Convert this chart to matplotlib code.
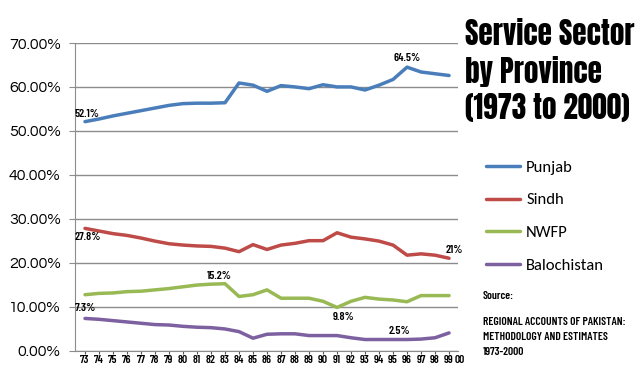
import matplotlib
matplotlib.use("Agg")
import matplotlib.pyplot as plt

# data (percent share of service sector)
years = ['73', '74', '75', '76', '77', '78', '79', '80', '81', '82', '83', '84', '85',
         '86', '87', '88', '89', '90', '91', '92', '93', '94', '95', '96', '97', '98', '99', '00']
punjab = [52.1, 52.7, 53.4, 54.0, 54.6, 55.2, 55.8, 56.2, 56.3, 56.3, 56.4, 60.9, 60.4, 59.0,
          60.3, 60.0, 59.6, 60.5, 60.0, 60.0, 59.3, 60.4, 61.7, 64.5, 63.4, 63.0, 62.6]
sindh = [27.8, 27.2, 26.6, 26.2, 25.6, 24.9, 24.3, 24.0, 23.8, 23.7, 23.3, 22.5, 24.1, 23.0,
         24.0, 24.4, 25.0, 25.0, 26.8, 25.8, 25.4, 24.9, 24.0, 21.7, 22.0, 21.7, 21.0]
nwfp = [12.7, 13.0, 13.1, 13.4, 13.5, 13.8, 14.1, 14.5, 14.9, 15.1, 15.2, 12.3, 12.7, 13.8,
        11.9, 11.9, 11.9, 11.2, 9.8, 11.2, 12.1, 11.7, 11.5, 11.1, 12.5, 12.5, 12.5]
baloch = [7.3, 7.1, 6.8, 6.5, 6.2, 5.9, 5.8, 5.5, 5.3, 5.2, 4.9, 4.3, 2.8, 3.7,
          3.8, 3.8, 3.4, 3.4, 3.4, 2.9, 2.5, 2.5, 2.5, 2.5, 2.6, 2.9, 4.0]
names = ['Punjab', 'Sindh', 'NWFP', 'Balochistan']
colors = ['#4a7ebb', '#be4b48', '#98b954', '#7d60a0']
yticks = [0, 10, 20, 30, 40, 50, 60, 70]

# (series index, point index, text, dx, dy, ha, va) in pixels
notes = [(0, 0, '52.1%', -11, 3, 'left', 'bottom'),
         (0, 23, '64.5%', 0, 4, 'center', 'bottom'),
         (1, 0, '27.8%', -10, -4, 'left', 'top'),
         (1, 26, '21%', -3, 3, 'left', 'bottom'),
         (2, 10, '15.2%', -6, 3, 'center', 'bottom'),
         (2, 18, '9.8%', 7, -5, 'center', 'top'),
         (3, 0, '7.3%', -10, 5, 'left', 'bottom'),
         (3, 22, '2.5%', 6, 4, 'center', 'bottom')]

COND = ['Barlow Condensed', 'DejaVu Sans']
GOTHIC = ['Questrial', 'Didact Gothic', 'DejaVu Sans']
CALIBRI = ['Carlito', 'Lato', 'DejaVu Sans']

def main():
  fig = plt.figure(figsize=(6.4, 3.7), dpi=100)
  ax = fig.add_axes([74.5 / 640, 1 - 350.5 / 370, (458 - 74.5) / 640, (350.5 - 43) / 370])
  series = [punjab, sindh, nwfp, baloch]
  x = list(range(len(punjab)))
  for s, name, c in zip(series, names, colors):
    ax.plot(x, s, color=c, lw=2.5, label=name, solid_joinstyle='round', solid_capstyle='round', zorder=3)

  ax.set_ylim(0, 70)
  ax.set_xlim(-0.75, 26.64)
  ax.set_yticks(yticks)
  ax.set_yticklabels(['%.2f%%' % v for v in yticks], fontfamily=GOTHIC, fontsize=11.5)
  ax.set_xticks(range(len(years) - 1))
  ax.set_xticklabels(years[:-1], fontfamily=COND, fontweight=600, fontsize=8.3)
  # last label sits past the cropped plot edge
  ax.annotate(years[-1], (len(years) - 1.2, 0), xycoords=('data', 'axes fraction'),
              xytext=(0, -3.5), textcoords='offset points', ha='center', va='top',
              fontfamily=COND, fontweight=600, fontsize=8.3, annotation_clip=False)
  ax.grid(axis='y', color='#8c8c8c', lw=1)
  ax.set_axisbelow(True)
  for sp in ['top', 'right']:
    ax.spines[sp].set_visible(False)
  for sp in ['left', 'bottom']:
    ax.spines[sp].set_color('#8c8c8c')
  ax.tick_params(axis='y', length=4, color='#8c8c8c', pad=6)
  ax.tick_params(axis='x', length=2.5, color='#555555', pad=1)

  for si, pi, t, dx, dy, ha, va in notes:
    ax.annotate(t, (pi, series[si][pi]), xytext=(dx, dy), textcoords='offset pixels',
                ha=ha, va=va, fontfamily=COND, fontweight=600, fontsize=8.5, zorder=5)

  fig.text(465 / 640, 1 - 19 / 370, 'Service Sector\nby Province\n(1973 to 2000)',
           ha='left', va='top', fontfamily=['Anton', 'DejaVu Sans'], fontsize=21, linespacing=1.25)

  fig.legend(loc='upper left', bbox_to_anchor=(471 / 640, 1 - 145 / 370), frameon=False,
             prop={'family': CALIBRI, 'size': 12}, handlelength=2.05, handletextpad=0.36,
             labelspacing=1.08)

  fig.text(483 / 640, 1 - 296 / 370, 'Source:', ha='left', va='center',
           fontfamily=COND, fontweight=600, fontsize=8.3)
  fig.text(483 / 640, 1 - 317 / 370, 'REGIONAL ACCOUNTS OF PAKISTAN:\nMETHODOLOGY AND ESTIMATES\n1973-2000',
           ha='left', va='top', fontfamily=COND, fontweight=600, fontsize=8.3, linespacing=1.6)

  fig.savefig('out.png', dpi=100)

if __name__ == '__main__':
  main()
